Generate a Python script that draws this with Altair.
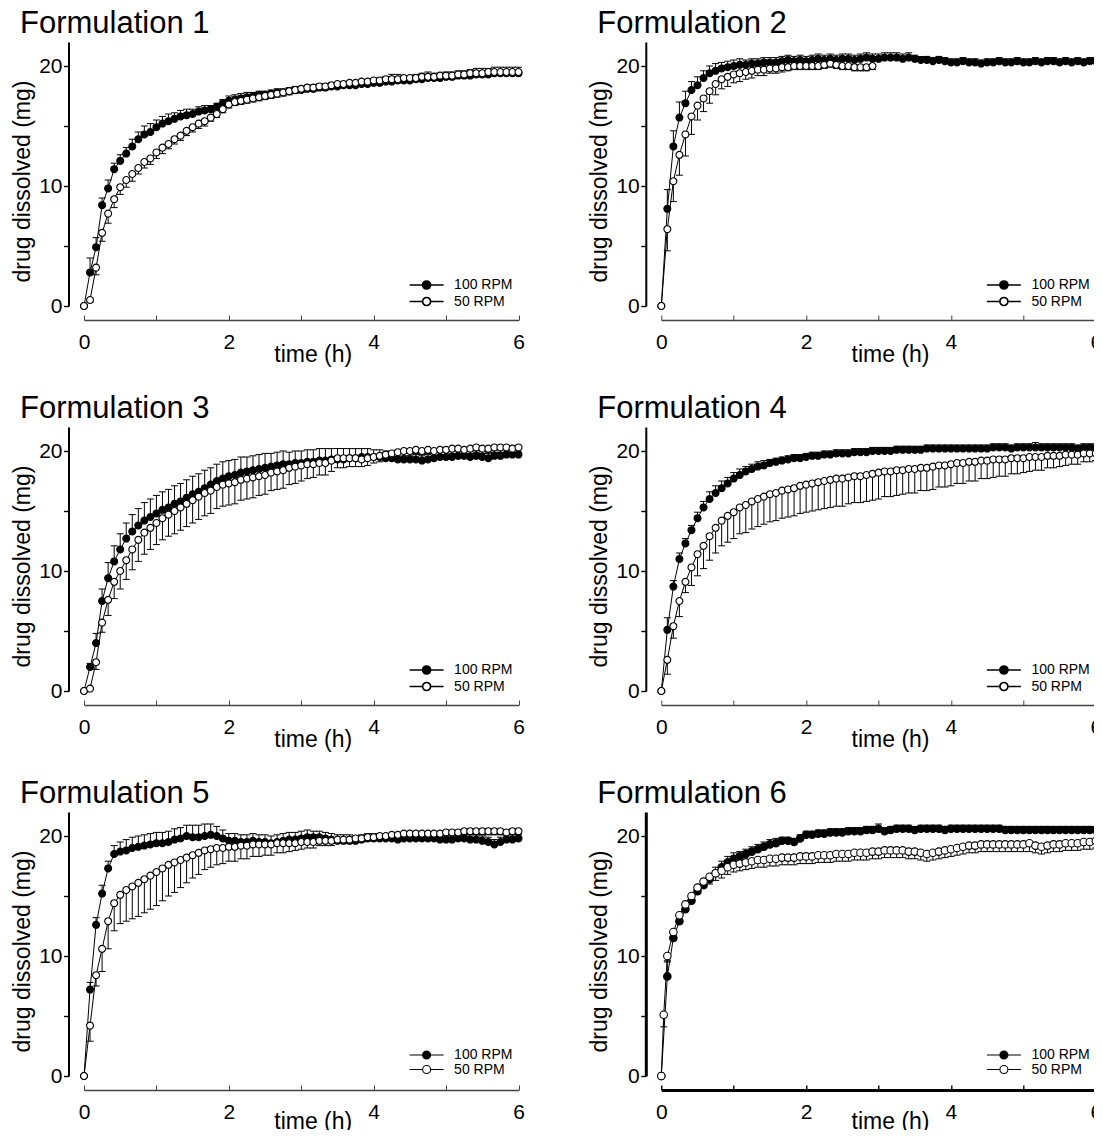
import altair as alt
import pandas as pd

FONT = "Liberation Sans"
W, H = 434.5, 264

# sampling times (minutes)
minutes = [0, 5, 10, 15, 20, 25, 30, 35, 40, 45,
           50, 55, 60, 65, 70, 75, 80, 85, 90, 95,
           100, 105, 110, 115, 120, 125, 130, 135, 140, 145,
           150, 155, 160, 165, 170, 175, 180, 185, 190, 195,
           200, 205, 210, 215, 220, 225, 230, 235, 240, 245,
           250, 255, 260, 265, 270, 275, 280, 285, 290, 295,
           300, 305, 310, 315, 320, 325, 330, 335, 340, 345,
           350, 355, 360]
minutes_f2_50 = [0, 5, 10, 15, 20, 25, 30, 35, 40, 45,
                 50, 55, 60, 65, 70, 75, 80, 85, 90, 95,
                 100, 105, 110, 115, 120, 125, 130, 135, 140, 145,
                 150, 155, 160, 165, 170, 175]
minutes_f6_50 = [0, 2, 5, 10, 15, 20, 25, 30, 35, 40,
                 45, 50, 55, 60, 65, 70, 75, 80, 85, 90,
                 95, 100, 105, 110, 115, 120, 125, 130, 135, 140,
                 145, 150, 155, 160, 165, 170, 175, 180, 185, 190,
                 195, 200, 205, 210, 215, 220, 225, 230, 235, 240,
                 245, 250, 255, 260, 265, 270, 275, 280, 285, 290,
                 295, 300, 305, 310, 315, 320, 325, 330, 335, 340,
                 345, 350, 355, 360]

# ---------------- Formulation 1 ----------------
f1_100 = [0, 2.8, 4.9, 8.4, 9.8, 11.4, 12.1, 12.7, 13.3, 13.9,
          14.3, 14.5, 14.9, 15.2, 15.4, 15.6, 15.8, 15.9, 16.0, 16.2,
          16.3, 16.4, 16.6, 16.9, 17.1, 17.2, 17.3, 17.4, 17.5, 17.6,
          17.6, 17.7, 17.8, 17.8, 17.9, 18.0, 18.0, 18.1, 18.1, 18.2,
          18.2, 18.3, 18.3, 18.4, 18.4, 18.4, 18.5, 18.5, 18.6, 18.6,
          18.7, 18.7, 18.8, 18.8, 18.8, 18.9, 18.9, 19.0, 19.0, 19.0,
          19.1, 19.1, 19.2, 19.2, 19.2, 19.3, 19.3, 19.3, 19.4, 19.4,
          19.4, 19.4, 19.4]
f1_100_sd = [0, 1.2, 0.8, 0.6, 0.7, 0.5, 0.5, 0.5, 0.6, 0.6,
             0.7, 0.7, 0.6, 0.6, 0.6, 0.5, 0.5, 0.5, 0.4, 0.4,
             0.4, 0.3, 0.3, 0.3, 0.4, 0.4, 0.4, 0.4, 0.3, 0.3,
             0.3, 0.3, 0.3, 0.3, 0.3, 0.3, 0.3, 0.3, 0.3, 0.3,
             0.3, 0.3, 0.3, 0.3, 0.3, 0.3, 0.3, 0.3, 0.3, 0.4,
             0.4, 0.6, 0.5, 0.4, 0.4, 0.4, 0.5, 0.5, 0.4, 0.4,
             0.4, 0.4, 0.4, 0.4, 0.5, 0.5, 0.5, 0.5, 0.5, 0.5,
             0.5, 0.5, 0.5]
f1_50 = [0, 0.5, 3.2, 6.1, 7.7, 8.9, 9.9, 10.5, 11.0, 11.5,
         12.0, 12.3, 12.8, 13.2, 13.5, 13.9, 14.2, 14.6, 14.9, 15.2,
         15.4, 15.7, 16.0, 16.4, 16.8, 17.0, 17.1, 17.2, 17.3, 17.4,
         17.5, 17.6, 17.7, 17.8, 17.9, 18.0, 18.1, 18.2, 18.2, 18.3,
         18.3, 18.4, 18.5, 18.5, 18.6, 18.6, 18.7, 18.7, 18.8, 18.8,
         18.9, 18.9, 18.9, 19.0, 19.0, 19.0, 19.1, 19.1, 19.1, 19.2,
         19.2, 19.2, 19.3, 19.3, 19.4, 19.4, 19.4, 19.5, 19.5, 19.5,
         19.5, 19.5, 19.5]
f1_50_sd = [0, 0.2, 0.6, 0.7, 0.8, 0.7, 0.6, 0.6, 0.6, 0.5,
            0.5, 0.5, 0.5, 0.5, 0.4, 0.4, 0.4, 0.4, 0.4, 0.4,
            0.4, 0.3, 0.3, 0.3, 0.3, 0.3, 0.3, 0.3, 0.3, 0.3,
            0.3, 0.3, 0.3, 0.3, 0.3, 0.3, 0.3, 0.3, 0.3, 0.3,
            0.3, 0.3, 0.3, 0.3, 0.3, 0.3, 0.3, 0.3, 0.3, 0.3,
            0.3, 0.3, 0.3, 0.3, 0.3, 0.3, 0.3, 0.3, 0.3, 0.3,
            0.3, 0.3, 0.3, 0.3, 0.3, 0.3, 0.3, 0.3, 0.3, 0.3,
            0.3, 0.3, 0.3]

# ---------------- Formulation 2 ----------------
f2_100 = [0, 8.1, 13.3, 15.7, 16.9, 18.0, 18.4, 19.0, 19.4, 19.6,
          19.8, 19.9, 20.0, 20.1, 20.1, 20.2, 20.2, 20.3, 20.3, 20.3,
          20.4, 20.5, 20.4, 20.5, 20.4, 20.5, 20.6, 20.5, 20.6, 20.5,
          20.6, 20.6, 20.5, 20.6, 20.7, 20.6, 20.6, 20.7, 20.7, 20.7,
          20.6, 20.7, 20.6, 20.5, 20.5, 20.4, 20.5, 20.4, 20.3, 20.3,
          20.4, 20.3, 20.3, 20.2, 20.3, 20.3, 20.4, 20.3, 20.3, 20.4,
          20.3, 20.3, 20.4, 20.3, 20.4, 20.4, 20.3, 20.4, 20.3, 20.4,
          20.3, 20.4, 20.4]
f2_100_sd = [0, 1.6, 1.3, 1.3, 1.0, 0.7, 0.7, 0.6, 0.6, 0.6,
             0.5, 0.5, 0.5, 0.5, 0.4, 0.4, 0.4, 0.4, 0.4, 0.4,
             0.4, 0.4, 0.4, 0.4, 0.4, 0.4, 0.4, 0.4, 0.4, 0.4,
             0.4, 0.4, 0.4, 0.4, 0.4, 0.4, 0.4, 0.4, 0.4, 0.4,
             0.4, 0.4, 0.3, 0.3, 0.3, 0.3, 0.3, 0.3, 0.3, 0.3,
             0.3, 0.3, 0.3, 0.3, 0.3, 0.3, 0.3, 0.3, 0.3, 0.3,
             0.3, 0.3, 0.3, 0.3, 0.3, 0.3, 0.3, 0.3, 0.3, 0.3,
             0.3, 0.3, 0.3]
f2_50 = [0, 6.4, 10.4, 12.6, 14.3, 15.8, 16.7, 17.3, 17.9, 18.5,
         18.9, 19.1, 19.3, 19.4, 19.5, 19.6, 19.7, 19.7, 19.8, 19.8,
         19.9, 19.9, 20.0, 20.0, 20.0, 20.0, 20.0, 20.1, 20.2, 20.1,
         20.0, 20.0, 19.9, 19.9, 19.9, 20.0]
f2_50_sd = [0, 1.8, 1.7, 1.7, 1.8, 1.5, 1.2, 1.1, 1.0, 0.9,
            0.8, 0.8, 0.7, 0.7, 0.6, 0.6, 0.5, 0.5, 0.4, 0.4,
            0.4, 0.3, 0.3, 0.3, 0.3, 0.3, 0.3, 0.3, 0.3, 0.3,
            0.3, 0.3, 0.3, 0.3, 0.3, 0.3]

# ---------------- Formulation 3 ----------------
f3_100 = [0, 2.0, 4.0, 7.5, 9.4, 10.8, 11.8, 12.7, 13.3, 13.8,
          14.2, 14.5, 14.8, 15.1, 15.3, 15.6, 15.8, 16.1, 16.4, 16.6,
          16.9, 17.2, 17.5, 17.7, 17.9, 18.0, 18.2, 18.3, 18.4, 18.5,
          18.6, 18.7, 18.8, 18.9, 18.9, 19.0, 19.0, 19.1, 19.1, 19.2,
          19.2, 19.3, 19.3, 19.3, 19.4, 19.4, 19.5, 19.5, 19.5, 19.5,
          19.4, 19.4, 19.3, 19.3, 19.3, 19.3, 19.2, 19.3, 19.4, 19.5,
          19.5, 19.5, 19.6, 19.6, 19.5, 19.6, 19.5, 19.4, 19.6, 19.6,
          19.7, 19.7, 19.7]
f3_100_sd = [0, 0.3, 0.8, 1.0, 1.3, 1.3, 1.3, 1.3, 1.4, 1.4,
             1.5, 1.5, 1.5, 1.5, 1.5, 1.5, 1.5, 1.5, 1.5, 1.5,
             1.5, 1.4, 1.4, 1.4, 1.3, 1.3, 1.3, 1.2, 1.2, 1.2,
             1.2, 1.1, 1.1, 1.1, 1.0, 1.0, 1.0, 1.0, 1.0, 1.0,
             1.0, 0.9, 0.9, 0.9, 0.8, 0.8, 0.7, 0.7, 0.6, 0.6,
             0.6, 0.5, 0.5, 0.5, 0.5, 0.5, 0.5, 0.5, 0.5, 0.5,
             0.5, 0.5, 0.5, 0.5, 0.5, 0.5, 0.5, 0.5, 0.5, 0.5,
             0.5, 0.5, 0.5]
f3_50 = [0, 0.2, 2.4, 5.7, 7.6, 9.1, 10.0, 10.9, 11.8, 12.6,
         13.2, 13.6, 14.0, 14.4, 14.7, 15.0, 15.3, 15.6, 15.9, 16.2,
         16.5, 16.7, 17.0, 17.2, 17.3, 17.4, 17.6, 17.7, 17.8, 17.9,
         18.0, 18.2, 18.3, 18.4, 18.6, 18.7, 18.8, 18.9, 18.9, 19.0,
         19.0, 19.2, 19.4, 19.4, 19.4, 19.4, 19.3, 19.4, 19.5, 19.6,
         19.7, 19.8, 19.9, 20.0, 20.0, 20.1, 20.0, 20.1, 20.0, 20.1,
         20.1, 20.2, 20.2, 20.1, 20.2, 20.3, 20.2, 20.2, 20.3, 20.3,
         20.3, 20.2, 20.3]
f3_50_sd = [0, 0.1, 0.6, 0.8, 1.3, 1.4, 1.5, 1.6, 1.7, 1.8,
            1.8, 1.8, 1.8, 1.8, 1.8, 1.9, 1.9, 1.9, 1.9, 1.9,
            1.9, 1.9, 1.8, 1.8, 1.8, 1.8, 1.7, 1.7, 1.7, 1.6,
            1.6, 1.5, 1.5, 1.5, 1.4, 1.4, 1.3, 1.2, 1.1, 1.0,
            1.0, 0.9, 0.8, 0.8, 0.7, 0.7, 0.6, 0.6, 0.5, 0.5,
            0.5, 0.4, 0.4, 0.4, 0.4, 0.4, 0.4, 0.4, 0.4, 0.4,
            0.4, 0.4, 0.4, 0.4, 0.4, 0.4, 0.4, 0.4, 0.4, 0.4,
            0.4, 0.4, 0.4]

# ---------------- Formulation 4 ----------------
f4_100 = [0, 5.1, 8.7, 11.0, 12.3, 13.4, 14.4, 15.3, 16.0, 16.5,
          16.9, 17.3, 17.7, 18.0, 18.3, 18.5, 18.7, 18.8, 19.0, 19.1,
          19.2, 19.3, 19.4, 19.4, 19.5, 19.6, 19.6, 19.7, 19.7, 19.8,
          19.8, 19.8, 19.9, 19.9, 19.9, 20.0, 20.0, 20.0, 20.0, 20.1,
          20.1, 20.1, 20.1, 20.1, 20.2, 20.2, 20.2, 20.2, 20.2, 20.2,
          20.2, 20.2, 20.2, 20.2, 20.2, 20.3, 20.3, 20.3, 20.2, 20.3,
          20.3, 20.3, 20.3, 20.3, 20.3, 20.3, 20.3, 20.3, 20.3, 20.2,
          20.3, 20.3, 20.3]
f4_100_sd = [0, 1.0, 0.5, 0.5, 0.4, 0.4, 0.5, 0.5, 0.6, 0.6,
             0.6, 0.5, 0.5, 0.5, 0.4, 0.4, 0.4, 0.4, 0.3, 0.3,
             0.3, 0.3, 0.3, 0.3, 0.3, 0.3, 0.3, 0.3, 0.3, 0.3,
             0.3, 0.3, 0.3, 0.3, 0.3, 0.3, 0.3, 0.3, 0.3, 0.3,
             0.3, 0.3, 0.3, 0.3, 0.3, 0.3, 0.3, 0.3, 0.3, 0.3,
             0.3, 0.3, 0.3, 0.3, 0.3, 0.3, 0.3, 0.3, 0.3, 0.3,
             0.3, 0.3, 0.4, 0.3, 0.3, 0.3, 0.3, 0.3, 0.3, 0.3,
             0.3, 0.3, 0.3]
f4_50 = [0, 2.6, 5.4, 7.5, 9.1, 10.3, 11.4, 12.1, 12.9, 13.6,
         14.2, 14.6, 14.9, 15.3, 15.5, 15.8, 16.0, 16.2, 16.4, 16.5,
         16.7, 16.8, 16.9, 17.1, 17.2, 17.3, 17.4, 17.5, 17.6, 17.7,
         17.7, 17.8, 17.9, 17.9, 18.0, 18.1, 18.2, 18.3, 18.3, 18.4,
         18.4, 18.5, 18.5, 18.6, 18.6, 18.7, 18.8, 18.8, 18.9, 19.0,
         19.0, 19.1, 19.1, 19.2, 19.2, 19.3, 19.3, 19.3, 19.4, 19.4,
         19.4, 19.5, 19.5, 19.5, 19.6, 19.6, 19.6, 19.7, 19.7, 19.7,
         19.8, 19.8, 19.8]
f4_50_sd = [0, 1.2, 1.0, 1.3, 0.9, 1.5, 1.8, 1.9, 2.0, 2.1,
            2.1, 2.2, 2.2, 2.2, 2.3, 2.3, 2.3, 2.3, 2.3, 2.3,
            2.3, 2.3, 2.3, 2.3, 2.3, 2.3, 2.3, 2.3, 2.3, 2.3,
            2.3, 2.2, 2.2, 2.2, 2.2, 2.2, 2.2, 2.1, 2.1, 2.1,
            2.0, 2.0, 2.0, 1.9, 1.9, 1.9, 1.8, 1.8, 1.8, 1.7,
            1.7, 1.6, 1.6, 1.5, 1.5, 1.5, 1.4, 1.4, 1.3, 1.3,
            1.2, 1.2, 1.1, 1.1, 1.0, 1.0, 0.9, 0.9, 0.8, 0.8,
            0.7, 0.7, 0.6]

# ---------------- Formulation 5 ----------------
f5_100 = [0, 7.2, 12.6, 15.2, 17.3, 18.5, 18.7, 18.8, 19.0, 19.1,
          19.2, 19.3, 19.4, 19.4, 19.5, 19.7, 19.8, 20.0, 19.9, 19.9,
          20.0, 20.1, 20.0, 19.8, 19.6, 19.6, 19.5, 19.5, 19.6, 19.5,
          19.5, 19.4, 19.5, 19.6, 19.7, 19.7, 19.8, 19.9, 19.9, 19.9,
          19.8, 19.7, 19.6, 19.6, 19.6, 19.6, 19.7, 19.8, 19.8, 19.8,
          19.8, 19.8, 19.7, 19.8, 19.8, 19.8, 19.8, 19.8, 19.8, 19.7,
          19.7, 19.7, 19.8, 19.8, 19.7, 19.7, 19.6, 19.5, 19.3, 19.5,
          19.7, 19.7, 19.8]
f5_100_sd = [0, 0.6, 0.6, 0.7, 0.6, 0.7, 0.8, 0.9, 0.9, 0.9,
             0.9, 0.9, 0.9, 0.9, 0.9, 0.9, 0.9, 0.9, 1.0, 1.0,
             1.0, 0.9, 0.8, 0.7, 0.6, 0.6, 0.6, 0.6, 0.6, 0.6,
             0.6, 0.6, 0.6, 0.6, 0.6, 0.6, 0.6, 0.6, 0.5, 0.5,
             0.5, 0.5, 0.5, 0.5, 0.5, 0.4, 0.4, 0.4, 0.4, 0.4,
             0.4, 0.4, 0.4, 0.4, 0.4, 0.4, 0.4, 0.4, 0.4, 0.4,
             0.4, 0.4, 0.4, 0.4, 0.4, 0.4, 0.4, 0.4, 0.4, 0.4,
             0.4, 0.4, 0.4]
f5_50 = [0, 4.2, 8.4, 10.6, 12.9, 14.4, 15.1, 15.5, 15.8, 16.1,
         16.4, 16.7, 17.0, 17.3, 17.6, 17.8, 18.0, 18.2, 18.4, 18.6,
         18.8, 18.9, 19.0, 19.0, 19.1, 19.1, 19.2, 19.2, 19.3, 19.3,
         19.3, 19.3, 19.4, 19.4, 19.4, 19.4, 19.5, 19.5, 19.5, 19.6,
         19.6, 19.6, 19.7, 19.7, 19.7, 19.8, 19.8, 19.9, 19.9, 20.0,
         20.0, 20.1, 20.1, 20.2, 20.2, 20.2, 20.2, 20.2, 20.2, 20.2,
         20.3, 20.3, 20.3, 20.4, 20.4, 20.4, 20.4, 20.4, 20.4, 20.4,
         20.3, 20.4, 20.4]
f5_50_sd = [0, 1.3, 0.9, 1.9, 2.3, 2.3, 2.4, 2.6, 2.7, 2.8,
            2.8, 2.8, 2.8, 2.7, 2.6, 2.5, 2.3, 2.1, 1.9, 1.8,
            1.6, 1.5, 1.4, 1.3, 1.2, 1.2, 1.1, 1.1, 1.0, 1.0,
            0.9, 0.9, 0.8, 0.8, 0.7, 0.6, 0.6, 0.5, 0.5, 0.4,
            0.4, 0.4, 0.3, 0.3, 0.3, 0.3, 0.3, 0.3, 0.3, 0.3,
            0.3, 0.3, 0.3, 0.3, 0.3, 0.3, 0.3, 0.3, 0.3, 0.3,
            0.3, 0.3, 0.3, 0.3, 0.3, 0.3, 0.3, 0.3, 0.3, 0.3,
            0.3, 0.3, 0.3]

# ---------------- Formulation 6 ----------------
f6_100 = [0, 8.3, 11.5, 12.9, 13.9, 14.6, 15.4, 15.9, 16.4, 16.9,
          17.4, 17.8, 18.1, 18.3, 18.5, 18.7, 18.9, 19.1, 19.3, 19.4,
          19.6, 19.6, 19.5, 19.8, 20.1, 20.1, 20.2, 20.2, 20.3, 20.3,
          20.3, 20.4, 20.4, 20.4, 20.5, 20.5, 20.6, 20.4, 20.5, 20.6,
          20.6, 20.6, 20.5, 20.6, 20.6, 20.6, 20.6, 20.5, 20.6, 20.6,
          20.6, 20.6, 20.6, 20.6, 20.6, 20.6, 20.6, 20.5, 20.5, 20.5,
          20.5, 20.5, 20.5, 20.5, 20.5, 20.5, 20.5, 20.5, 20.5, 20.5,
          20.5, 20.5, 20.5]
f6_100_sd = [0, 1.3, 0.4, 0.5, 0.4, 0.4, 0.4, 0.4, 0.4, 0.5,
             0.5, 0.5, 0.5, 0.4, 0.4, 0.4, 0.4, 0.4, 0.4, 0.4,
             0.3, 0.3, 0.3, 0.3, 0.3, 0.3, 0.3, 0.3, 0.3, 0.3,
             0.3, 0.3, 0.3, 0.3, 0.3, 0.3, 0.4, 0.3, 0.3, 0.3,
             0.3, 0.3, 0.3, 0.3, 0.3, 0.3, 0.3, 0.3, 0.3, 0.3,
             0.3, 0.3, 0.3, 0.3, 0.3, 0.3, 0.3, 0.3, 0.3, 0.3,
             0.3, 0.3, 0.3, 0.3, 0.3, 0.3, 0.3, 0.3, 0.3, 0.3,
             0.3, 0.3, 0.3]
f6_50 = [0, 5.1, 10.0, 12.0, 13.4, 14.3, 15.0, 15.7, 16.2, 16.6,
         16.9, 17.1, 17.4, 17.6, 17.7, 17.8, 17.9, 18.0, 18.0, 18.1,
         18.1, 18.2, 18.2, 18.2, 18.3, 18.3, 18.3, 18.4, 18.4, 18.4,
         18.5, 18.5, 18.5, 18.6, 18.6, 18.6, 18.7, 18.7, 18.8, 18.8,
         18.8, 18.8, 18.7, 18.7, 18.6, 18.5, 18.6, 18.7, 18.8, 18.9,
         19.0, 19.1, 19.2, 19.2, 19.3, 19.3, 19.3, 19.3, 19.3, 19.3,
         19.3, 19.3, 19.4, 19.2, 19.1, 19.2, 19.3, 19.3, 19.4, 19.4,
         19.4, 19.5, 19.5, 19.6]
f6_50_sd = [0, 1.0, 0.5, 0.4, 0.4, 0.4, 0.4, 0.5, 0.5, 0.6,
            0.6, 0.6, 0.6, 0.6, 0.6, 0.6, 0.6, 0.6, 0.6, 0.6,
            0.6, 0.6, 0.6, 0.6, 0.6, 0.6, 0.6, 0.6, 0.6, 0.6,
            0.6, 0.6, 0.6, 0.6, 0.6, 0.6, 0.6, 0.6, 0.6, 0.6,
            0.6, 0.6, 0.6, 0.6, 0.6, 0.6, 0.6, 0.6, 0.6, 0.6,
            0.6, 0.6, 0.6, 0.6, 0.6, 0.6, 0.6, 0.6, 0.6, 0.6,
            0.6, 0.6, 0.7, 0.6, 0.6, 0.6, 0.6, 0.6, 0.6, 0.6,
            0.6, 0.6, 0.6, 0.6]

titles = ["Formulation 1", "Formulation 2", "Formulation 3",
          "Formulation 4", "Formulation 5", "Formulation 6"]
series = [
    (minutes, f1_100, f1_100_sd, minutes, f1_50, f1_50_sd),
    (minutes, f2_100, f2_100_sd, minutes_f2_50, f2_50, f2_50_sd),
    (minutes, f3_100, f3_100_sd, minutes, f3_50, f3_50_sd),
    (minutes, f4_100, f4_100_sd, minutes, f4_50, f4_50_sd),
    (minutes, f5_100, f5_100_sd, minutes, f5_50, f5_50_sd),
    (minutes, f6_100, f6_100_sd, minutes_f6_50, f6_50, f6_50_sd),
]
speeds = ["100 RPM", "50 RPM"]

# legend glyph: a short line with the marker in its middle
SYM_CIRCLE = "M-4.25,0L-1,0M1,0L4.25,0M1,0A1,1,0,1,1,-1,0A1,1,0,1,1,1,0Z"


def make_df(t1, y1, e1, t2, y2, e2):
    rows = []
    for m, v, e in zip(t1, y1, e1):
        rows.append({"t": m / 60.0, "y": v, "e": e, "end": v + e, "speed": speeds[0]})
    for m, v, e in zip(t2, y2, e2):
        rows.append({"t": m / 60.0, "y": v, "e": e, "end": v - e, "speed": speeds[1]})
    return pd.DataFrame(rows)


def panel(idx):
    heavy = idx == 5
    bottom_row = idx >= 4
    df = make_df(*series[idx])
    xs = alt.Scale(domain=[0, 6], nice=False, zero=False)
    ys = alt.Scale(domain=[0, 22], nice=False)
    xdom_color = "black" if heavy else "#444444"
    xdom_w = 3 if heavy else 1.4
    ydom_w = 3 if heavy else 2

    x_main = alt.Axis(orient="bottom", values=[0, 2, 4, 6], format="d", ticks=False,
                      tickSize=0, domain=True, domainColor=xdom_color, domainWidth=xdom_w,
                      offset=14, labelPadding=11, labelFontSize=21, labelFont=FONT,
                      labelColor="black", labelFlush=False, labelOverlap=False, grid=False,
                      title="time (h)", titleFont=FONT, titleFontSize=23,
                      titleFontWeight="normal", titleColor="black",
                      titleX=W / 2 + 11.5, titleY=38 if bottom_row else 41.5,
                      titleBaseline="alphabetic", titleAlign="center")
    x_ticks = alt.Axis(orient="bottom", values=[0, 1, 2, 3, 4, 5, 6], domain=False,
                       labels=False, ticks=True, tickSize=5, tickColor=xdom_color,
                       tickWidth=1.4 if heavy else 1, offset=9, title=None, grid=False)
    y_axis = alt.Axis(orient="left", values=[0, 5, 10, 15, 20],
                      labelExpr="datum.value % 10 === 0 ? datum.label : ''",
                      tickSize=5, tickColor="black", tickWidth=1.4,
                      domainColor="black", domainWidth=ydom_w, offset=15.5,
                      labelPadding=1.5, labelFontSize=21, labelFont=FONT,
                      labelColor="black", grid=False,
                      title="drug dissolved (mg)", titleFont=FONT, titleFontSize=23,
                      titleFontWeight="normal", titleColor="black",
                      titleX=-39.5, titleY=139, titleAngle=270,
                      titleBaseline="alphabetic", titleAlign="center")

    lw = 1.1 if bottom_row else 1.7
    legend = alt.Legend(
        title=None, orient="none", legendX=335.6, legendY=236,
        symbolType=SYM_CIRCLE, symbolSize=64, labelOffset=20.5,
        labelFont=FONT, labelFontSize=14, labelColor="black",
        rowPadding=0.5, padding=0,
        labelExpr="datum.label == '50 RPM' ? '\u00a0\u00a0' + datum.label : datum.label",
        symbolStrokeColor="black", symbolStrokeWidth=lw, symbolOpacity=1,
    )

    base = alt.Chart(df)
    err = base.transform_filter("datum.e > 0")
    rules = err.mark_rule(color="black", strokeWidth=1).encode(
        x=alt.X("t:Q", scale=xs, axis=None),
        y=alt.Y("y:Q", scale=ys, axis=y_axis),
        y2="end:Q",
    )
    caps = err.mark_tick(orient="horizontal", size=7, thickness=1, color="black",
                         opacity=1).encode(
        x=alt.X("t:Q", scale=xs, axis=None),
        y=alt.Y("end:Q", scale=ys, axis=y_axis),
    )
    lines = base.mark_line(color="black", strokeWidth=1).encode(
        x=alt.X("t:Q", scale=xs, axis=x_main),
        y=alt.Y("y:Q", scale=ys, axis=y_axis),
        detail="speed:N",
        order="t:Q",
    )
    points = base.mark_point(filled=True, size=56 if heavy else 48, stroke="black",
                             strokeWidth=1.1, opacity=1).encode(
        x=alt.X("t:Q", scale=xs, axis=x_ticks),
        y=alt.Y("y:Q", scale=ys, axis=y_axis),
        fill=alt.Fill("speed:N", scale=alt.Scale(domain=speeds, range=["black", "white"]),
                      legend=legend),
    )
    return alt.layer(rules, caps, lines, points).properties(
        width=W, height=H,
        title=alt.TitleParams(text=titles[idx], anchor="start", frame="group",
                              fontSize=31, fontWeight="normal", font=FONT,
                              color="black", dx=-64, dy=28, offset=6,
                              baseline="alphabetic"),
    ).resolve_axis(x="independent")


panels = [panel(i) for i in range(6)]
chart = alt.concat(*panels, columns=2, spacing={"row": 121, "column": 142.3},
                   bounds="flush").resolve_scale(fill="independent").resolve_legend(
    fill="independent").properties(
    padding={"left": 2, "top": 0, "right": -8, "bottom": -3.5}
).configure(font=FONT).configure_view(stroke=None)

chart.save("out.html", embed_options={"renderer": "svg", "actions": False})
